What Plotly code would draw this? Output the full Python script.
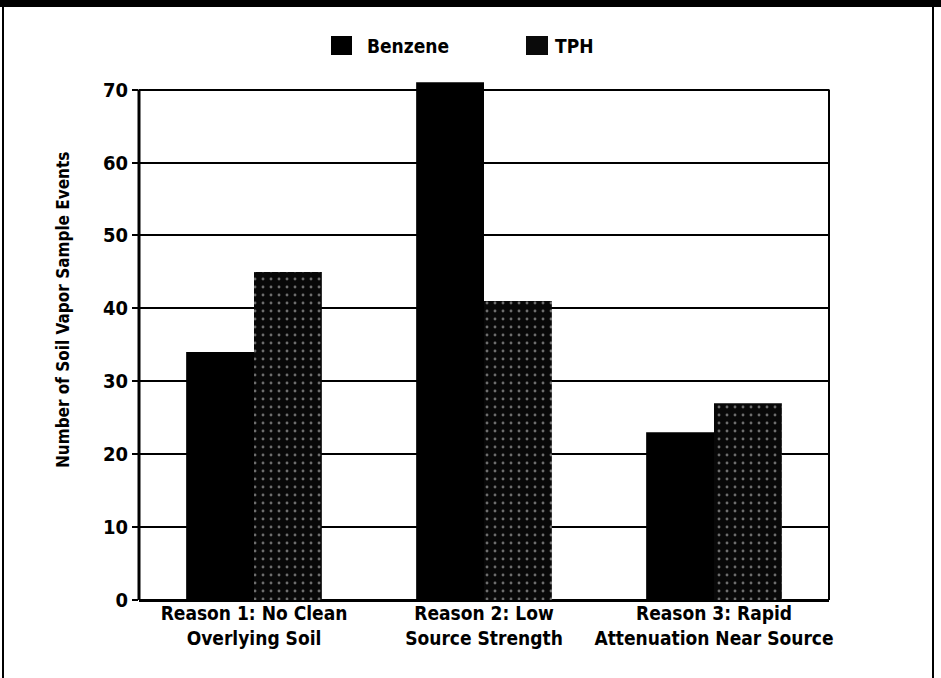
import plotly.graph_objects as go

# Survey results: soil vapor sample events per reason
categories = [
    "Reason 1: No Clean<br>Overlying Soil",
    "Reason 2: Low<br>Source Strength",
    "Reason 3: Rapid<br>Attenuation Near Source",
]
benzene = [34, 71, 23]
tph = [45, 41, 27]
y_ticks = [0, 10, 20, 30, 40, 50, 60, 70]
series_names = ["Benzene", "TPH"]
y_title = "Number of Soil Vapor Sample Events"

W, H = 941, 678
ML, MR, MT, MB = 139, 112, 75, 78
PW, PH = W - ML - MR, H - MT - MB

FONT = "DejaVu Sans Condensed, Liberation Sans Narrow, Arial Narrow, sans-serif"


def px_x(px):
    return (px - ML) / PW


def px_y(py):
    return (H - MB - py) / PH


fig = go.Figure()
fig.add_trace(go.Bar(
    x=categories, y=benzene, name=series_names[0],
    marker=dict(color="#000000", line=dict(width=0)),
))
fig.add_trace(go.Bar(
    x=categories, y=tph, name=series_names[1],
    marker=dict(
        color="#000000", line=dict(width=0),
        pattern=dict(shape=".", bgcolor="#080808", fgcolor="#6e6e6e",
                     size=8, solidity=0.1, fillmode="replace"),
    ),
))

shapes = []
# frame lines of the plotting area (left axis, right edge)
shapes.append(dict(type="line", xref="paper", yref="y", x0=0, x1=0, y0=0, y1=70,
                   line=dict(color="black", width=3)))
shapes.append(dict(type="line", xref="paper", yref="y", x0=1, x1=1, y0=0, y1=70,
                   line=dict(color="black", width=2)))
# page border: heavy top band plus thin side rules
shapes.append(dict(type="rect", xref="paper", yref="paper",
                   x0=px_x(-5), x1=px_x(W + 5), y0=px_y(7), y1=px_y(-5),
                   fillcolor="black", line=dict(width=0), layer="above"))
shapes.append(dict(type="line", xref="paper", yref="paper",
                   x0=px_x(3), x1=px_x(3), y0=px_y(0), y1=px_y(H),
                   line=dict(color="black", width=2)))
shapes.append(dict(type="line", xref="paper", yref="paper",
                   x0=px_x(933), x1=px_x(933), y0=px_y(0), y1=px_y(H),
                   line=dict(color="black", width=2)))
# legend swatches
shapes.append(dict(type="rect", xref="paper", yref="paper",
                   x0=px_x(331), x1=px_x(352), y0=px_y(55), y1=px_y(36),
                   fillcolor="black", line=dict(width=0)))
shapes.append(dict(type="rect", xref="paper", yref="paper",
                   x0=px_x(526), x1=px_x(548), y0=px_y(55), y1=px_y(36),
                   fillcolor="#0a0a0a", line=dict(width=0)))

annotations = [
    dict(text=series_names[0], xref="paper", yref="paper", x=px_x(365), y=px_y(46),
         xanchor="left", yanchor="middle", showarrow=False,
         font=dict(family=FONT, size=19, color="black", weight="bold")),
    dict(text=series_names[1], xref="paper", yref="paper", x=px_x(553), y=px_y(46),
         xanchor="left", yanchor="middle", showarrow=False,
         font=dict(family=FONT, size=19, color="black", weight="bold")),
    dict(text=y_title, xref="paper", yref="paper", x=px_x(63), y=px_y(310),
         xanchor="center", yanchor="middle", textangle=-90, showarrow=False,
         font=dict(family=FONT, size=17, color="black", weight="bold")),
]

fig.update_layout(
    width=W, height=H,
    margin=dict(l=ML, r=MR, t=MT, b=MB, pad=0),
    paper_bgcolor="white", plot_bgcolor="white",
    barmode="group", bargap=0.41, bargroupgap=0,
    showlegend=False,
    shapes=shapes, annotations=annotations,
    font=dict(family=FONT, color="black"),
)
fig.update_xaxes(
    showgrid=False, showline=False, zeroline=False, ticks="",
    tickfont=dict(family=FONT, size=19, color="black", weight="bold"),
)
fig.update_yaxes(
    range=[0, 72], tickvals=y_ticks, showgrid=True, gridcolor="black", gridwidth=2,
    zeroline=True, zerolinecolor="black", zerolinewidth=3,
    showline=False, ticks="outside", ticklen=6, tickwidth=2, tickcolor="black",
    tickfont=dict(family=FONT, size=20, color="black", weight="bold"),
)

fig.write_html("out.html")
